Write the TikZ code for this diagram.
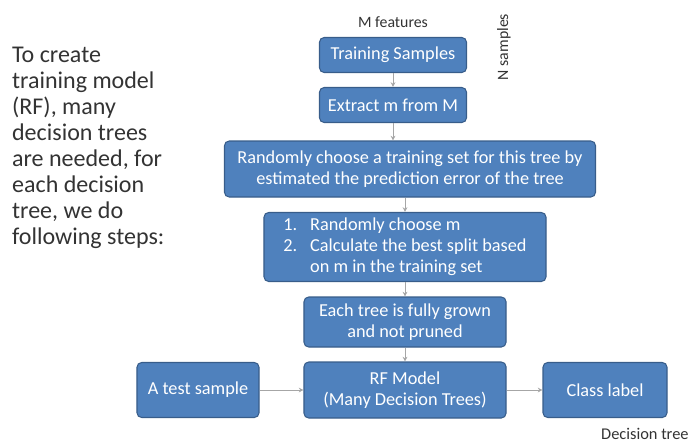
\documentclass[tikz,border=0pt]{standalone}
\usepackage{fontspec}
\setmainfont{Carlito}
\usepackage{xcolor}
\usetikzlibrary{arrows.meta, positioning}

\definecolor{boxfill}{HTML}{4F81BD}
\definecolor{boxline}{HTML}{385D8A}
\definecolor{flowgray}{HTML}{A6A6A6}
\definecolor{notegray}{HTML}{333333}

\begin{document}
\begin{tikzpicture}[x=0.03cm, y=-0.03cm,
    stepbox/.style={draw=boxline, line width=0.9pt, fill=boxfill, rounded corners=4pt,
      text=white, align=center, inner sep=2pt, font=\fontsize{15.6}{17.8}\selectfont},
    small/.style={text=notegray, font=\fontsize{13.5}{15}\selectfont},
    flow/.style={draw=flowgray, line width=0.7pt, -{Stealth[length=4pt, width=4pt]}}]
  \useasboundingbox (0,0) rectangle (692,445);

  % left note
  \node[anchor=north west, align=left, text=notegray,
    font=\fontsize{20.5}{22.2}\selectfont] (note) at (8,43)
    {To create\\training model\\(RF), many\\decision trees\\are needed, for\\each decision\\tree, we do\\following steps:};

  % training part
  \node[stepbox, minimum width=4.41cm, minimum height=1.05cm] (train) at (393,55) {Training Samples};
  \node[small] (mfeat) at (393,22) {M features};
  \node[small, rotate=90] (nsamp) at (504,47) {N samples};
  \node[stepbox, minimum width=4.41cm, minimum height=1.05cm] (extract) at (393,105) {Extract m from M};
  \node[stepbox, minimum width=11.13cm, minimum height=1.68cm] (choose) at (410,169)
    {Randomly choose a training set for this tree by\\estimated the prediction error of the tree};
  \node[stepbox, minimum width=8.46cm, minimum height=2.07cm] (split) at (405,247)
    {\begin{tabular}{@{}l@{\hspace{11pt}}l@{}}
      1. & Randomly choose m\\
      2. & Calculate the best split based\\
         & on m in the training set
    \end{tabular}};
  \node[stepbox, minimum width=6.06cm, minimum height=1.5cm] (grown) at (405,322)
    {Each tree is fully grown\\and not pruned};

  % testing part
  \node[stepbox, minimum width=6.06cm, minimum height=1.68cm] (rfmodel) at (405,390)
    {RF Model\\(Many Decision Trees)};
  \node[stepbox, minimum width=3.66cm, minimum height=1.65cm] (test) at (198,390) {A test sample};
  \node[stepbox, minimum width=3.72cm, minimum height=1.65cm] (classlbl) at (605,390) {Class label};
  \node[small, anchor=east, inner sep=1pt, font=\fontsize{14}{15}\selectfont] (dtree) at (690,434) {Decision tree};

  \draw[flow] (train) -- (extract);
  \draw[flow] (extract.south) -- (extract.south |- choose.north);
  \draw[flow] (choose.south -| split.north) -- (split.north);
  \draw[flow] (split) -- (grown);
  \draw[flow] (grown) -- (rfmodel);
  \draw[flow] (test) -- (rfmodel);
  \draw[flow] (rfmodel) -- (classlbl);
\end{tikzpicture}
\end{document}
